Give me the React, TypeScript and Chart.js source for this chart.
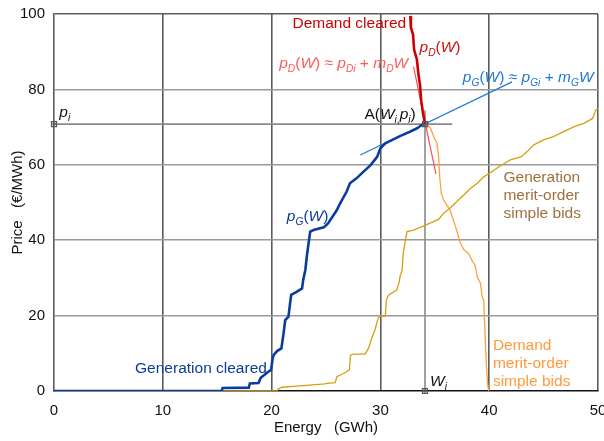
import React, { useEffect, useRef } from 'react';
import { Chart, registerables } from 'chart.js';

Chart.register(...registerables);

const FONT = '"Liberation Sans", Arial, Helvetica, sans-serif';

// ---- data (GWh, €/MWh) ----
const genClearedX = [0, 15.4, 15.5, 17.9, 18.0, 18.8, 19.0, 19.7, 19.95, 20.1, 20.2, 20.5, 20.9, 21.1, 21.25, 21.55, 21.7, 21.8, 22.3, 22.8, 22.9, 23.1, 23.25, 23.4, 23.55, 23.85, 24.8, 25.2, 26.0, 26.3, 26.9, 27.2, 27.8, 28.45, 29.1, 29.7, 30.0, 30.45, 31.1, 31.8, 32.75, 33.4, 33.8, 34.1];
const genClearedY = [0, 0, 0.8, 0.9, 2.0, 2.1, 3.5, 5.1, 5.6, 8.7, 9.6, 10.6, 11.3, 15.3, 18.8, 19.7, 23.3, 25.5, 26.3, 27.2, 29.4, 32.1, 36.0, 39.2, 42.3, 42.7, 43.4, 44.5, 48.0, 49.8, 52.9, 55.1, 56.4, 58.2, 59.9, 62.1, 64.4, 65.7, 66.6, 67.6, 68.8, 69.7, 70.6, 70.8];

const demClearedX = [32.75, 32.8, 33.0, 33.1, 33.35, 33.5, 33.65, 33.75, 33.9, 34.1];
const demClearedY = [99.5, 96.5, 94.5, 90.5, 88.0, 84.0, 81.0, 77.0, 74.0, 70.8];

const demBidsX = [34.1, 34.6, 34.9, 35.2, 35.35, 35.45, 35.6, 35.8, 36.1, 36.4, 36.7, 37.0, 37.35, 37.7, 38.1, 38.4, 38.7, 38.9, 39.2, 39.35, 39.5, 39.55, 39.65, 39.75, 39.85, 39.95];
const demBidsY = [71.0, 69.7, 67.5, 65.7, 62.1, 56.8, 52.4, 50.7, 49.3, 48.0, 45.4, 42.7, 39.2, 37.4, 36.5, 34.7, 33.4, 30.3, 28.6, 25.0, 24.1, 19.7, 12.7, 6.4, 2.0, 0];

const genBidsX = [0, 20.5, 20.6, 20.95, 22.3, 24.9, 25.1, 25.85, 26.0, 26.5, 26.9, 27.15, 27.25, 27.5, 28.6, 28.9, 29.2, 29.5, 29.7, 29.9, 30.45, 30.55, 30.75, 31.5, 31.7, 31.8, 32.0, 32.1, 32.3, 32.45, 33.05, 34.0, 34.6, 35.35, 35.8, 36.4, 37.0, 37.65, 38.3, 38.9, 39.5, 40.1, 41.0, 41.95, 42.9, 43.5, 44.1, 45.0, 45.9, 46.85, 47.8, 48.7, 49.5, 49.8, 50];
const genBidsY = [0, 0, 0.5, 1.0, 1.3, 1.9, 2.0, 2.2, 3.8, 4.5, 5.1, 5.6, 9.5, 9.8, 9.8, 11.3, 14.0, 16.2, 18.4, 19.9, 19.9, 24.1, 25.5, 26.8, 28.6, 30.3, 32.1, 36.5, 40.1, 42.3, 42.7, 43.8, 44.6, 45.5, 47.1, 48.5, 50.2, 52.0, 53.8, 55.1, 56.8, 57.9, 59.7, 61.3, 62.1, 63.5, 65.3, 66.6, 67.5, 68.8, 70.1, 71.0, 72.3, 74.5, 75.0];

const demTangentX = [33.05, 35.1];
const demTangentY = [86.0, 57.6];
const genTangentX = [28.15, 42.1];
const genTangentY = [62.6, 82.0];

const W_I = 34.1;
const P_I = 70.8;
const piLineX = [0, 36.6];
const piLineY = [P_I, P_I];
const wiLineX = [W_I, W_I];
const wiLineY = [0, 74.5];
const markerX = [0, W_I, W_I];
const markerY = [P_I, 0, P_I];

const xTickValues = [0, 10, 20, 30, 40, 50];
const yTickValues = [0, 20, 40, 60, 80, 100];

const pts = (xs: number[], ys: number[]) => xs.map((x, i) => ({ x, y: ys[i] }));

type Seg = { t: string; i?: boolean; s?: boolean };

function drawRich(ctx: CanvasRenderingContext2D, x: number, y: number, segs: Seg[], color: string, size: number, align: 'left' | 'right' | 'center' = 'left') {
  const fontFor = (sg: Seg) => `${sg.i ? 'italic ' : ''}${sg.s ? size * 0.66 : size}px ${FONT}`;
  const widths = segs.map((sg) => {
    ctx.font = fontFor(sg);
    return ctx.measureText(sg.t).width;
  });
  const total = widths.reduce((a, b) => a + b, 0);
  let cx = align === 'right' ? x - total : align === 'center' ? x - total / 2 : x;
  ctx.fillStyle = color;
  ctx.textAlign = 'left';
  ctx.textBaseline = 'alphabetic';
  segs.forEach((sg, k) => {
    ctx.font = fontFor(sg);
    ctx.fillText(sg.t, cx, y + (sg.s ? size * 0.26 : 0));
    cx += widths[k];
  });
}

const annotPlugin = {
  id: 'annot',
  afterDatasetsDraw(chart: any) {
    const { ctx } = chart;
    const X = (v: number) => chart.scales.x.getPixelForValue(v);
    const Y = (v: number) => chart.scales.y.getPixelForValue(v);
    const S = 15.5;
    ctx.save();
    drawRich(ctx, X(32.37), Y(96.2), [{ t: 'Demand cleared' }], '#cc0000', S, 'right');
    drawRich(ctx, X(33.6), Y(90.0), [{ t: 'p', i: true }, { t: 'D', i: true, s: true }, { t: '(' }, { t: 'W', i: true }, { t: ')' }], '#cc1010', S);
    drawRich(ctx, X(32.55), Y(85.6), [
      { t: 'p', i: true }, { t: 'D', i: true, s: true }, { t: '(' }, { t: 'W', i: true }, { t: ') ≈ ' },
      { t: 'p', i: true }, { t: 'Di', i: true, s: true }, { t: ' + ' }, { t: 'm', i: true }, { t: 'D', i: true, s: true }, { t: 'W', i: true },
    ], '#ff5a5a', S, 'right');
    drawRich(ctx, X(37.58), Y(82.0), [
      { t: 'p', i: true }, { t: 'G', i: true, s: true }, { t: '(' }, { t: 'W', i: true }, { t: ') ≈ ' },
      { t: 'p', i: true }, { t: 'Gi', i: true, s: true }, { t: ' + ' }, { t: 'm', i: true }, { t: 'G', i: true, s: true }, { t: 'W', i: true },
    ], '#1f78d4', S);
    drawRich(ctx, X(28.53), Y(72.1), [
      { t: 'A(' }, { t: 'W', i: true }, { t: 'i', i: true, s: true }, { t: ',', s: true }, { t: 'p', i: true }, { t: 'i', i: true, s: true }, { t: ')' },
    ], '#111111', S);
    drawRich(ctx, X(0.49), Y(72.8), [{ t: 'p', i: true }, { t: 'i', i: true, s: true }], '#111111', S);
    drawRich(ctx, X(34.57), Y(1.3), [{ t: 'W', i: true }, { t: 'i', i: true, s: true }], '#111111', S);
    drawRich(ctx, X(21.4), Y(45.1), [{ t: 'p', i: true }, { t: 'G', i: true, s: true }, { t: '(' }, { t: 'W', i: true }, { t: ')' }], '#0a3c9c', S);
    drawRich(ctx, X(7.45), Y(4.85), [{ t: 'Generation cleared' }], '#0a3c9c', S);
    const genLines = ['Generation', 'merit-order', 'simple bids'];
    genLines.forEach((t, k) => drawRich(ctx, X(41.31), Y(55.5) + k * 18, [{ t }], '#a0703e', S));
    const demLines = ['Demand', 'merit-order', 'simple bids'];
    demLines.forEach((t, k) => drawRich(ctx, X(40.34), Y(10.9) + k * 18, [{ t }], '#ff9a3c', S));
    ctx.restore();
  },
};

export default function App() {
  const ref = useRef<HTMLCanvasElement | null>(null);
  useEffect(() => {
    if (!ref.current) return;
    const line = (data: any, color: string, width: number, order: number) => ({
      data, borderColor: color, backgroundColor: color, borderWidth: width, showLine: true,
      pointRadius: 0, pointHoverRadius: 0, fill: false, tension: 0, order,
    });
    const chart = new Chart(ref.current, {
      type: 'scatter',
      data: {
        datasets: [
          { ...line(pts(markerX, markerY), '#555555', 1.2, 0), showLine: false, pointStyle: 'rect', pointRadius: 3.5, backgroundColor: 'rgba(255,255,255,0)', pointBorderWidth: 1.2, clip: false },
          { ...line(pts(markerX, markerY), '#555555', 1, 0), showLine: false, pointStyle: 'cross', pointRadius: 2.5, pointBorderWidth: 1, clip: false },
          line(pts(demClearedX, demClearedY), '#cc0000', 2.6, 1),
          line(pts(genClearedX, genClearedY), '#0a3ca0', 2.6, 2),
          line(pts(genTangentX, genTangentY), '#1f78d4', 1.2, 3),
          line(pts(demTangentX, demTangentY), '#ff5050', 1.2, 4),
          line(pts(demBidsX, demBidsY), '#ffa040', 1.3, 5),
          line(pts(genBidsX, genBidsY), '#d4a010', 1.3, 6),
          line(pts(piLineX, piLineY), '#8a8a8a', 1.6, 7),
          line(pts(wiLineX, wiLineY), '#8a8a8a', 1.6, 8),
        ],
      },
      options: {
        animation: false,
        responsive: false,
        maintainAspectRatio: false,
        layout: { padding: { top: 14, right: 6, left: 0, bottom: 0 } },
        plugins: { legend: { display: false }, tooltip: { enabled: false } },
        scales: {
          x: {
            type: 'linear', min: 0, max: 50,
            afterBuildTicks: (s: any) => { s.ticks = xTickValues.map((v) => ({ value: v })); },
            afterFit: (s: any) => { s.height = 50; s.paddingLeft = 0; s.paddingRight = 0; },
            ticks: { color: '#111', font: { size: 15, family: FONT }, padding: 11, maxRotation: 0 },
            grid: {
              drawTicks: false, lineWidth: 1.6,
              color: (c: any) => (c.tick && c.tick.value === 0 ? 'rgba(0,0,0,0)' : '#5c5c5c'),
            },
            border: { display: true, color: '#111', width: 1.6 },
            title: { display: true, text: 'Energy   (GWh)', color: '#111', font: { size: 15, family: FONT }, padding: { top: 0, bottom: 4 } },
          },
          y: {
            type: 'linear', min: 0, max: 100,
            afterBuildTicks: (s: any) => { s.ticks = yTickValues.map((v) => ({ value: v })); },
            afterFit: (s: any) => { s.width = 54; s.paddingTop = 0; s.paddingBottom = 0; },
            ticks: { color: '#111', font: { size: 15, family: FONT }, padding: 9 },
            grid: {
              drawTicks: false, lineWidth: 1.6,
              color: (c: any) => (c.tick && c.tick.value === 0 ? 'rgba(0,0,0,0)' : c.tick && c.tick.value === 100 ? '#5c5c5c' : '#9a9a9a'),
            },
            border: { display: true, color: '#5c5c5c', width: 1.6 },
            title: { display: true, text: 'Price   (€/MWh)', color: '#111', font: { size: 15, family: FONT }, padding: { top: 9, bottom: 0 } },
          },
        },
      },
      plugins: [annotPlugin],
    } as any);
    return () => chart.destroy();
  }, []);
  return (
    <div style={{ position: 'absolute', left: 0, top: 0, width: 604, height: 441, background: '#fff' }}>
      <canvas ref={ref} width={604} height={441} style={{ display: 'block' }} />
    </div>
  );
}
